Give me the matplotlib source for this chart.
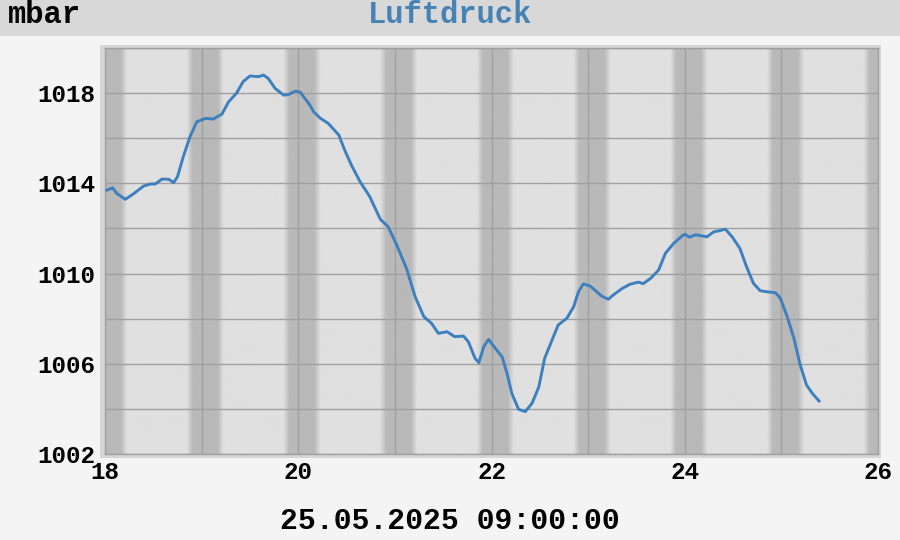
import matplotlib
matplotlib.use('Agg')
import matplotlib.pyplot as plt
from matplotlib.patches import Rectangle
import numpy as np

# day of month (fractional) and air pressure in mbar
days = [18.02, 18.08, 18.12, 18.21, 18.29, 18.40, 18.47, 18.52, 18.59, 18.66,
        18.71, 18.75, 18.81, 18.88, 18.95, 19.04, 19.12, 19.21, 19.28, 19.36,
        19.43, 19.50, 19.59, 19.64, 19.69, 19.76, 19.85, 19.90, 19.97, 20.02,
        20.12, 20.16, 20.23, 20.31, 20.42, 20.48, 20.55, 20.64, 20.74, 20.85,
        20.93, 21.02, 21.12, 21.21, 21.30, 21.38, 21.45, 21.54, 21.62, 21.71,
        21.76, 21.83, 21.87, 21.92, 21.97, 22.04, 22.11, 22.16, 22.21, 22.28,
        22.35, 22.42, 22.49, 22.55, 22.62, 22.69, 22.78, 22.85, 22.90, 22.95,
        23.02, 23.09, 23.14, 23.21, 23.26, 23.35, 23.43, 23.52, 23.57, 23.65,
        23.73, 23.80, 23.88, 23.97, 24.00, 24.05, 24.11, 24.23, 24.30, 24.36,
        24.42, 24.49, 24.57, 24.64, 24.71, 24.78, 24.85, 24.94, 24.99, 25.06,
        25.13, 25.19, 25.26, 25.32, 25.39]
pressure = [1013.70, 1013.80, 1013.56, 1013.29, 1013.52, 1013.88, 1013.97, 1013.97, 1014.19, 1014.18,
            1014.03, 1014.29, 1015.18, 1016.07, 1016.73, 1016.88, 1016.85, 1017.07, 1017.62, 1017.99,
            1018.51, 1018.76, 1018.73, 1018.80, 1018.65, 1018.21, 1017.91, 1017.94, 1018.09, 1018.04,
            1017.47, 1017.17, 1016.88, 1016.66, 1016.14, 1015.48, 1014.81, 1014.07, 1013.41, 1012.40,
            1012.08, 1011.26, 1010.23, 1008.97, 1008.09, 1007.79, 1007.35, 1007.42, 1007.20, 1007.23,
            1006.98, 1006.24, 1006.05, 1006.76, 1007.08, 1006.68, 1006.31, 1005.58, 1004.69, 1003.98,
            1003.88, 1004.25, 1004.98, 1006.24, 1006.98, 1007.72, 1008.02, 1008.53, 1009.19, 1009.54,
            1009.45, 1009.19, 1009.00, 1008.86, 1009.05, 1009.33, 1009.52, 1009.62, 1009.55, 1009.80,
            1010.16, 1010.90, 1011.31, 1011.66, 1011.74, 1011.61, 1011.72, 1011.63, 1011.85, 1011.90,
            1011.97, 1011.63, 1011.12, 1010.30, 1009.57, 1009.24, 1009.19, 1009.15, 1008.90, 1008.09,
            1007.13, 1006.02, 1005.06, 1004.69, 1004.35]

midnights = [18, 19, 20, 21, 22, 23, 24, 25, 26]
dusk = -0.095      # night begins (days relative to midnight)
dawn = 0.165       # night ends
twilight = 0.06

x_ticks = [18, 20, 22, 24, 26]
y_ticks = [1002, 1006, 1010, 1014, 1018]
title = 'Luftdruck'
unit = 'mbar'
stamp = '25.05.2025 09:00:00'

mono = 'Liberation Mono'

fig = plt.figure(figsize=(9, 5.4), dpi=100, facecolor='#f4f4f4')

# header bar
fig.patches.append(Rectangle((0, 1 - 36 / 540), 1, 36 / 540, transform=fig.transFigure,
                             facecolor='#d8d8d8', edgecolor='none', zorder=-1))
# light frame around the plot
fig.patches.append(Rectangle((100 / 900, 1 - 458 / 540), 781 / 900, 413 / 540,
                             transform=fig.transFigure, facecolor='#d6d6d6',
                             edgecolor='none', zorder=-1))

fig.text(8 / 900, 1 - 15 / 540, unit, family=mono, weight='bold', fontsize=22,
         color='black', ha='left', va='center')
fig.text(0.5, 1 - 15 / 540, title, family=mono, weight='bold', fontsize=22,
         color='#4682b4', ha='center', va='center')
fig.text(0.5, 1 - 521 / 540, stamp, family=mono, weight='bold', fontsize=21.5,
         color='black', ha='center', va='center')

ax = fig.add_axes([105 / 900, 1 - 454 / 540, 773 / 900, 406 / 540])
ax.set_zorder(2)

# night shading
xs = np.linspace(18, 26, 3000)
shade = np.zeros_like(xs)
for d in midnights:
    rel = xs - d
    s = np.clip((rel - (dusk - twilight)) / twilight, 0, 1) * \
        np.clip(((dawn + twilight) - rel) / twilight, 0, 1)
    shade = np.maximum(shade, s)
light, dark = 0xe0 / 255, 0xb9 / 255
g = light + (dark - light) * shade
img = np.dstack([g, g, g])
ax.imshow(img, extent=[18, 26, 1002, 1020], aspect='auto', zorder=0,
          interpolation='bilinear')

ax.plot(days, pressure, color='#3d80bd', linewidth=2.1, zorder=3)

ax.set_xlim(18, 26)
ax.set_ylim(1002, 1020)
ax.set_xticks(x_ticks)
ax.set_xticks(np.arange(18, 27, 1), minor=True)
ax.set_yticks(y_ticks)
ax.set_yticks(np.arange(1002, 1021, 2), minor=True)
ax.grid(which='both', color='#a0a0a0', linewidth=1.0, zorder=1)
ax.set_axisbelow(False)
ax.tick_params(which='both', length=0)
ax.tick_params(axis='y', pad=7)
ax.tick_params(axis='x', pad=5)
for lab in ax.get_xticklabels() + ax.get_yticklabels():
    lab.set_family(mono)
    lab.set_weight('bold')
    lab.set_fontsize(17.5)
for sp in ax.spines.values():
    sp.set_color('#a0a0a0')
    sp.set_linewidth(1.0)

fig.savefig('out.png', dpi=100, facecolor=fig.get_facecolor())
